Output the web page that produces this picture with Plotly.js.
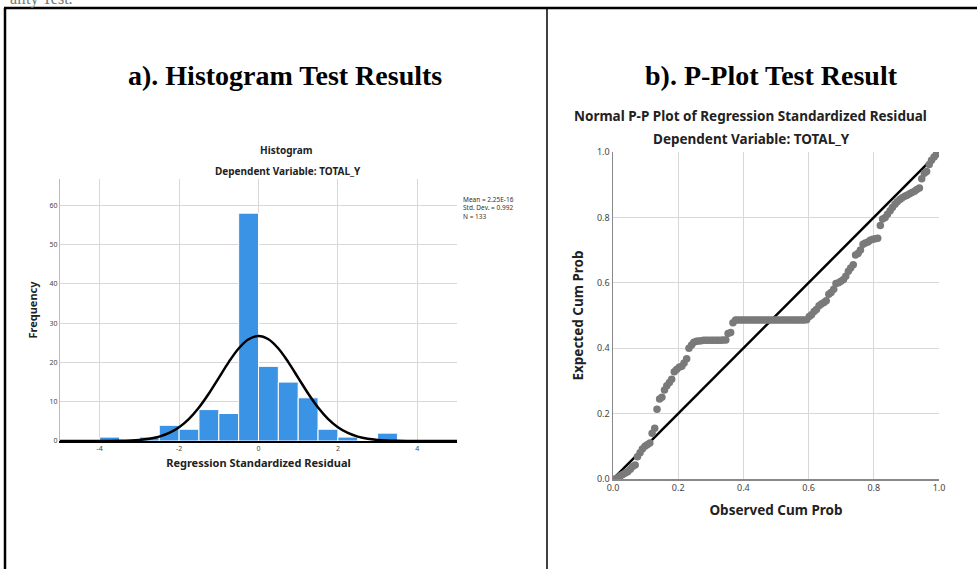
<!DOCTYPE html>
<html><head><meta charset="utf-8">
<script src="https://cdn.plot.ly/plotly-3.0.1.min.js"></script>
<style>html,body{margin:0;padding:0;background:#fff;}#chart{width:977px;height:569px;}</style>
</head><body><div id="chart"></div>
<script>
// ---- Histogram data ----
const binCenters = [-3.75, -2.75, -2.25, -1.75, -1.25, -0.75, -0.25, 0.25, 0.75, 1.25, 1.75, 2.25, 3.25];
const binCounts  = [1, 1, 4, 3, 8, 7, 58, 19, 15, 11, 3, 1, 2];
const histXTicks = [-4, -2, 0, 2, 4];
const histXTickText = ["-4", "-2", "0", "2", "4"];
const histYTicks = [0, 10, 20, 30, 40, 50, 60];
// normal curve
const curveX = [-5, -4.5, -4, -3.5, -3, -2.75, -2.5, -2.25, -2, -1.75, -1.5, -1.25, -1, -0.75, -0.5, -0.25, 0, 0.25, 0.5, 0.75, 1, 1.25, 1.5, 1.75, 2, 2.25, 2.5, 2.75, 3, 3.5, 4, 4.5, 5];
const curveY = [0, 0, 0.01, 0.05, 0.28, 0.57, 1.12, 2.04, 3.5, 5.64, 8.53, 12.09, 16.09, 20.09, 23.55, 25.9, 26.74, 25.9, 23.55, 20.09, 16.09, 12.09, 8.53, 5.64, 3.5, 2.04, 1.12, 0.57, 0.28, 0.05, 0.01, 0, 0];

// ---- P-P plot data ----
const observedCum = [.008,.015,.023,.030,.038,.045,.053,.060,.068,.075,.083,.090,.098,.105,.113,.120,.128,.135,.143,.150,
.158,.165,.173,.180,.188,.195,.203,.211,.218,.226,.233,.241,.248,.256,.263,.271,.278,.286,.293,.301,
.308,.316,.323,.331,.338,.346,.353,.361,.368,.376,.383,.391,.398,.406,.414,.421,.429,.436,.444,.451,
.459,.466,.474,.481,.489,.496,.504,.511,.519,.526,.534,.541,.549,.556,.564,.571,.579,.586,.594,.602,
.609,.617,.624,.632,.639,.647,.654,.662,.669,.677,.684,.692,.699,.707,.714,.722,.729,.737,.744,.752,
.759,.767,.774,.782,.789,.797,.805,.812,.820,.827,.835,.842,.850,.857,.865,.872,.880,.887,.895,.902,
.910,.917,.925,.932,.940,.947,.955,.962,.970,.977,.985,.992,1.000];
const expectedCum = [.001,.004,.010,.014,.018,.022,.030,.038,.043,
.068,.080,.092,.100,.105,.110,.140,.155,
.213,.245,.250,.272,.285,.295,.305,
.328,.335,.342,.345,.355,.368,.400,.410,
.418,.421,.422,.423,.424,.424,.424,.424,.424,.424,.424,.424,.425,.425,
.445,.448,.478,
.486,.486,.486,.486,.486,.486,.486,.486,.486,.486,.486,.486,.486,.486,.486,
.486,.486,.486,.486,.486,.486,.486,.486,.486,.486,.486,.486,.486,.486,.487,
.497,.502,.512,.518,.530,.535,.540,.545,
.565,.570,.580,.598,.600,.605,.610,.620,.635,.645,.655,
.685,.690,.700,.718,.722,.725,.730,.733,.735,.736,
.775,.795,.800,.810,.820,.830,.840,.848,.855,.860,.865,.868,.872,.876,.880,.885,.890,
.918,.935,.940,.962,.975,.985,.993,.999];
const refLine = [0, 1];
const ppTicks = [0, 0.2, 0.4, 0.6, 0.8, 1.0];

const W = 977, H = 569;
const px = v => v / W;
const py = v => 1 - v / H;
const sans = "Noto Sans, Open Sans, sans-serif";
const serif = "Liberation Serif, DejaVu Serif, serif";

const traces = [
  {type: "bar", x: binCenters, y: binCounts, width: 0.5, xaxis: "x", yaxis: "y",
   marker: {color: "#3b93e6", line: {color: "#ffffff", width: 1}}, hoverinfo: "x+y"},
  {type: "scatter", mode: "lines", x: curveX, y: curveY, xaxis: "x", yaxis: "y",
   line: {color: "#000", width: 2.5, shape: "spline", smoothing: 1}},
  {type: "scatter", mode: "lines", x: refLine, y: refLine, xaxis: "x2", yaxis: "y2",
   line: {color: "#000", width: 2.5}},
  {type: "scatter", mode: "markers", x: observedCum, y: expectedCum, xaxis: "x2", yaxis: "y2",
   marker: {color: "#7a7a7a", size: 7.5, line: {width: 0}}}
];

const grid = "#d8d8d8";
const layout = {
  width: W, height: H, margin: {l: 0, r: 0, t: 0, b: 0},
  paper_bgcolor: "#fff", plot_bgcolor: "#fff", showlegend: false,
  xaxis: {domain: [px(60), px(457)], range: [-5, 5], tickvals: histXTicks, ticktext: histXTickText,
    showgrid: true, gridcolor: grid, gridwidth: 1, zeroline: false, showline: true, linecolor: "#000", linewidth: 2,
    ticks: "", tickfont: {family: sans, size: 7, color: "#444"},
    title: {text: "<b>Regression Standardized Residual</b>", font: {family: sans, size: 11, color: "#222"}, standoff: 7}},
  yaxis: {domain: [py(441), py(179)], range: [0, 66.7], tickvals: histYTicks,
    showgrid: true, gridcolor: grid, gridwidth: 1, zeroline: false, showline: true, linecolor: "#bbb", linewidth: 1,
    ticks: "", tickfont: {family: sans, size: 7, color: "#444"},
    title: {text: "<b>Frequency</b>", font: {family: sans, size: 11, color: "#222"}, standoff: 9}},
  xaxis2: {domain: [px(613), px(939)], range: [0, 1], tickvals: ppTicks, tickformat: ".1f", anchor: "y2",
    showgrid: true, gridcolor: grid, gridwidth: 1, zeroline: false, showline: true, linecolor: "#888", linewidth: 1.5,
    ticks: "", tickfont: {family: sans, size: 9, color: "#444"},
    title: {text: "<b>Observed Cum Prob</b>", font: {family: sans, size: 13.5, color: "#222"}, standoff: 12}},
  yaxis2: {domain: [py(479), py(152)], range: [0, 1], tickvals: ppTicks, tickformat: ".1f", anchor: "x2",
    showgrid: true, gridcolor: grid, gridwidth: 1, zeroline: false, showline: true, linecolor: "#888", linewidth: 1.5,
    ticks: "", tickfont: {family: sans, size: 9, color: "#444"},
    title: {text: "<b>Expected Cum Prob</b>", font: {family: sans, size: 13.5, color: "#222"}, standoff: 10}},
  shapes: [
    {type: "line", xref: "paper", yref: "paper", x0: px(4), x1: 1, y0: py(8), y1: py(8), line: {color: "#000", width: 2.5}},
    {type: "line", xref: "paper", yref: "paper", x0: px(5), x1: px(5), y0: 0, y1: py(8), line: {color: "#000", width: 2.5}},
    {type: "line", xref: "paper", yref: "paper", x0: px(547), x1: px(547), y0: 0, y1: py(8), line: {color: "#000", width: 1.5}}
  ],
  annotations: [
    {text: "ality Test.", xref: "paper", yref: "paper", x: px(8), y: py(10), xanchor: "left", yanchor: "bottom",
     showarrow: false, font: {family: serif, size: 16, color: "#777"}},
    {text: "<b>a). Histogram Test Results</b>", xref: "paper", yref: "paper", x: px(285), y: py(75), xanchor: "center", yanchor: "middle",
     showarrow: false, font: {family: serif, size: 28, color: "#000"}},
    {text: "<b>b). P-Plot Test Result</b>", xref: "paper", yref: "paper", x: px(771), y: py(75), xanchor: "center", yanchor: "middle",
     showarrow: false, font: {family: serif, size: 28, color: "#000"}},
    {text: "<b>Histogram</b>", xref: "paper", yref: "paper", x: px(286), y: py(150), xanchor: "center", yanchor: "middle",
     showarrow: false, font: {family: sans, size: 10, color: "#222"}},
    {text: "<b>Dependent Variable: TOTAL_Y</b>", xref: "paper", yref: "paper", x: px(288), y: py(171), xanchor: "center", yanchor: "middle",
     showarrow: false, font: {family: sans, size: 10, color: "#222"}},
    {text: "Mean = 2.25E-16<br>Std. Dev. = 0.992<br>N = 133", xref: "paper", yref: "paper", x: px(461), y: py(193), xanchor: "left", yanchor: "top",
     align: "left", showarrow: false, font: {family: sans, size: 6.5, color: "#333"}},
    {text: "<b>Normal P-P Plot of Regression Standardized Residual</b>", xref: "paper", yref: "paper", x: px(750), y: py(116), xanchor: "center", yanchor: "middle",
     showarrow: false, font: {family: sans, size: 13.5, color: "#222"}},
    {text: "<b>Dependent Variable: TOTAL_Y</b>", xref: "paper", yref: "paper", x: px(751), y: py(139), xanchor: "center", yanchor: "middle",
     showarrow: false, font: {family: sans, size: 13.5, color: "#222"}}
  ]
};

Plotly.newPlot("chart", traces, layout, {displayModeBar: false, staticPlot: true});
</script></body></html>
